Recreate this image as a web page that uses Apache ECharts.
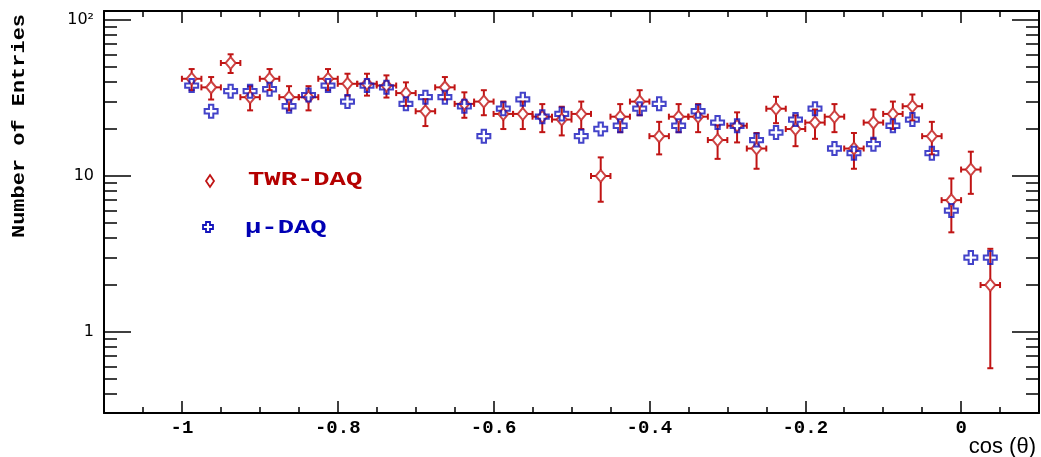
<!DOCTYPE html>
<html>
<head>
<meta charset="utf-8">
<script src="https://cdn.jsdelivr.net/npm/echarts@6/dist/echarts.min.js"></script>
<style>
html,body{margin:0;padding:0;background:#fff;}
#chart{width:1041px;height:457px;}
</style>
</head>
<body>
<div id="chart"></div>
<script>
// ---- data ----
const binCenters = [-0.9875,-0.9625,-0.9375,-0.9125,-0.8875,-0.8625,-0.8375,-0.8125,-0.7875,-0.7625,
  -0.7375,-0.7125,-0.6875,-0.6625,-0.6375,-0.6125,-0.5875,-0.5625,-0.5375,-0.5125,
  -0.4875,-0.4625,-0.4375,-0.4125,-0.3875,-0.3625,-0.3375,-0.3125,-0.2875,-0.2625,
  -0.2375,-0.2125,-0.1875,-0.1625,-0.1375,-0.1125,-0.0875,-0.0625,-0.0375,-0.0125,
  0.0125,0.0375];
const twrCounts = [42,37,53,32,42,32,32,42,39,39,38,34,26,37,29,30,25,25,24,23,
  25,10,24,30,18,24,24,17,21,15,27,20,22,24,15,22,25,28,18,7,11,2];
const muCounts = [38,26,35,35,36,28,33,38,30,38,37,29,32,32,28,18,27,31,24,25,
  18,20,21,27,29,21,26,22,21,17,19,23,27,15,14,16,21,23,14,6,3,3];
const binHalfWidth = 0.0125;
const seriesNames = ['TWR-DAQ', '\u03bc-DAQ'];
const xTickValues = [-1, -0.8, -0.6, -0.4, -0.2, 0];
const xTickLabels = ['-1', '-0.8', '-0.6', '-0.4', '-0.2', '0'];
const xMinorTicks = [-1.05,-0.95,-0.9,-0.85,-0.75,-0.7,-0.65,-0.55,-0.5,-0.45,-0.35,-0.3,-0.25,-0.15,-0.1,-0.05,0.05];
const yTickValues = [1, 10, 100];
const yTickLabels = ['1', '10', '10\u00b2'];
const yMinorTicks = [0.4,0.5,0.6,0.7,0.8,0.9,2,3,4,5,6,7,8,9,20,30,40,50,60,70,80,90];
const xAxisTitle = 'cos (\u03b8)';
const yAxisTitle = 'Number of Entries';

// ---- layout / style ----
const RED = '#c01414';
const BLUE = '#1414bc';
const X_MIN = -1.1, X_MAX = 0.1;
const Y_MIN = Math.pow(10, -81/156), Y_MAX = Math.pow(10, 2 + 9/156);
const L_MIN = Math.log10(Y_MIN), L_MAX = Math.log10(Y_MAX);
const GRID = {left: 104, top: 11, width: 935, height: 402};
const crossPath = 'path://M4,0 L8,0 L8,4 L12,4 L12,8 L8,8 L8,12 L4,12 L4,8 L0,8 L0,4 L4,4 Z';

const log10 = v => Math.log10(v);
const hidden = {show: false};

function xAx(position, ticks, len, showLine, showLabels) {
  return {
    type: 'value', position: position, min: X_MIN, max: X_MAX, gridIndex: 0,
    axisLine: {show: showLine, onZero: false, lineStyle: {color: '#000', width: 2}},
    axisTick: {show: true, inside: true, length: len, customValues: ticks, lineStyle: {color: '#000', width: 1.5}},
    axisLabel: showLabels ? {
      show: true, customValues: xTickValues, margin: 6,
      formatter: v => xTickLabels[xTickValues.indexOf(v)],
      fontFamily: '"Liberation Mono"', fontWeight: 'bold', fontSize: 19, color: '#000'
    } : {show: false},
    splitLine: hidden
  };
}
function yAx(position, ticks, len, showLine, showLabels) {
  return {
    type: 'value', position: position, min: L_MIN, max: L_MAX, gridIndex: 0,
    axisLine: {show: showLine, onZero: false, lineStyle: {color: '#000', width: 2}},
    axisTick: {show: true, inside: true, length: len, customValues: ticks.map(log10), lineStyle: {color: '#000', width: 1.5}},
    axisLabel: showLabels ? {
      show: true, customValues: yTickValues.map(log10), margin: 10,
      formatter: v => yTickLabels[Math.round(v)],
      fontFamily: '"DejaVu Sans"', fontSize: 16, color: '#000'
    } : {show: false},
    splitLine: hidden
  };
}

const twrData = binCenters.map((x, i) => [x, twrCounts[i]]);
const muData = binCenters.map((x, i) => [x, muCounts[i]]);

function renderErr(params, api) {
  const x = api.value(0), v = api.value(1);
  const e = Math.sqrt(v);
  const c = api.coord([x, v]);
  const top = api.coord([x, v + e]);
  const bot = api.coord([x, Math.max(v - e, Y_MIN)]);
  const lft = api.coord([x - binHalfWidth, v]);
  const rgt = api.coord([x + binHalfWidth, v]);
  const gy = 6, gx = 5, cap = 3;
  const st = {stroke: RED, lineWidth: 2};
  const segs = [];
  const L = (x1, y1, x2, y2) => segs.push({type: 'line', shape: {x1, y1, x2, y2}, style: st});
  if (top[1] < c[1] - gy) L(c[0], top[1], c[0], c[1] - gy);
  if (bot[1] > c[1] + gy) L(c[0], c[1] + gy, c[0], bot[1]);
  L(c[0] - cap, top[1], c[0] + cap, top[1]);
  L(c[0] - cap, bot[1], c[0] + cap, bot[1]);
  L(lft[0], c[1], c[0] - gx, c[1]);
  L(c[0] + gx, c[1], rgt[0], c[1]);
  L(lft[0], c[1] - cap, lft[0], c[1] + cap);
  L(rgt[0], c[1] - cap, rgt[0], c[1] + cap);
  return {type: 'group', children: segs};
}

// legend cross outline (same shape as the data marker), centred at (208,227)
const cx0 = 208, cy0 = 227, a = 2, b = 5;
const legendCross = [[cx0-a,cy0-b],[cx0+a,cy0-b],[cx0+a,cy0-a],[cx0+b,cy0-a],[cx0+b,cy0+a],[cx0+a,cy0+a],
  [cx0+a,cy0+b],[cx0-a,cy0+b],[cx0-a,cy0+a],[cx0-b,cy0+a],[cx0-b,cy0-a],[cx0-a,cy0-a]];

const chart = echarts.init(document.getElementById('chart'), null, {renderer: 'canvas'});
chart.setOption({
  animation: false,
  backgroundColor: '#fff',
  grid: GRID,
  xAxis: [
    xAx('bottom', xTickValues, 12, true, true),
    xAx('bottom', xMinorTicks, 6, false, false),
    xAx('top', xTickValues, 12, true, false),
    xAx('top', xMinorTicks, 6, false, false)
  ],
  yAxis: [
    {type: 'log', logBase: 10, min: Y_MIN, max: Y_MAX, show: true,
     axisLine: {show: false, onZero: false}, axisTick: hidden, axisLabel: hidden, splitLine: hidden},
    yAx('left', yTickValues, 27, true, true),
    yAx('left', yMinorTicks, 13, false, false),
    yAx('right', yTickValues, 27, true, false),
    yAx('right', yMinorTicks, 13, false, false)
  ],
  series: [
    {type: 'custom', name: seriesNames[0] + ' err', xAxisIndex: 0, yAxisIndex: 0,
     data: twrData, renderItem: renderErr, z: 2, silent: true},
    {type: 'scatter', name: seriesNames[0], xAxisIndex: 0, yAxisIndex: 0, data: twrData,
     symbol: 'diamond', symbolSize: [10, 12], z: 3, silent: true,
     itemStyle: {color: 'rgba(0,0,0,0)', borderColor: RED, borderWidth: 2}},
    {type: 'scatter', name: seriesNames[1], xAxisIndex: 0, yAxisIndex: 0, data: muData,
     symbol: crossPath, symbolSize: 13, z: 4, silent: true,
     itemStyle: {color: 'rgba(0,0,0,0)', borderColor: BLUE, borderWidth: 2}}
  ],
  graphic: [
    {type: 'polygon', shape: {points: [[210, 175], [214, 181], [210, 187], [206, 181]]},
     style: {fill: 'none', stroke: RED, lineWidth: 1.8}},
    {type: 'text', x: 248, y: 180, scaleX: 1.36,
     style: {text: seriesNames[0], font: 'bold 20px "Liberation Mono"', fill: '#b40000',
             textAlign: 'left', textVerticalAlign: 'middle', verticalAlign: 'middle'}},
    {type: 'polygon', shape: {points: legendCross},
     style: {fill: 'none', stroke: BLUE, lineWidth: 1.8}},
    {type: 'text', x: 245, y: 228, scaleX: 1.36,
     style: {text: seriesNames[1], font: 'bold 20px "Liberation Mono"', fill: '#0000b4',
             textAlign: 'left', textVerticalAlign: 'middle', verticalAlign: 'middle'}},
    {type: 'text', x: 19, y: 126, rotation: Math.PI / 2, scaleX: 1.22,
     style: {text: yAxisTitle, font: 'bold 18px "Liberation Mono"', fill: '#000',
             textAlign: 'center', textVerticalAlign: 'middle', verticalAlign: 'middle'}},
    {type: 'text', x: 1036, y: 447,
     style: {text: xAxisTitle, font: '22px "Liberation Sans"', fill: '#000',
             textAlign: 'right', textVerticalAlign: 'middle', verticalAlign: 'middle'}}
  ]
});
</script>
</body>
</html>
